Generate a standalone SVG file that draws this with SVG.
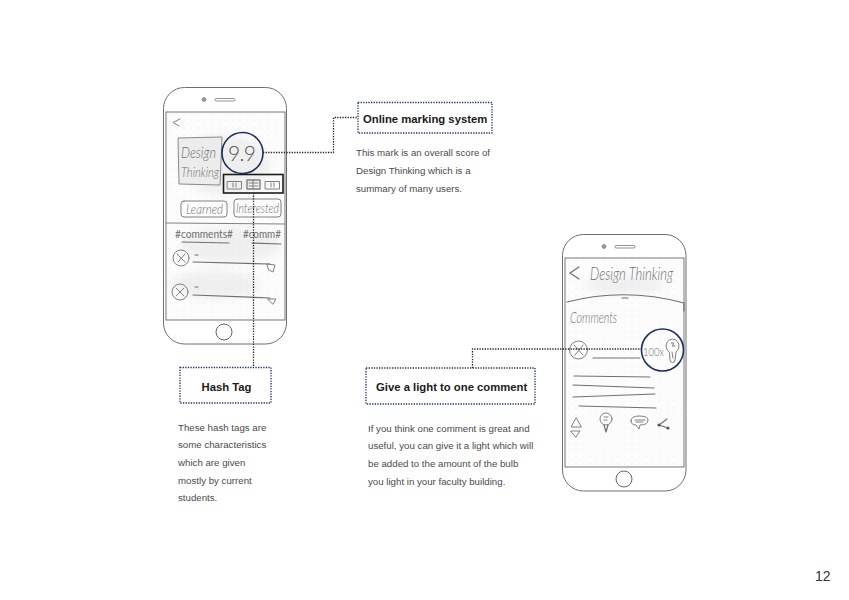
<svg xmlns="http://www.w3.org/2000/svg" width="849" height="600" viewBox="0 0 849 600">
<style>
.ph{fill:#fff;stroke:#6e6e6e;stroke-width:1}
.scr{fill:#fcfcfc;stroke:#777;stroke-width:1}
.sk{fill:none;stroke:#808080;stroke-width:1;stroke-linecap:round;stroke-linejoin:round}
.skd{fill:none;stroke:#707070;stroke-width:1.2;stroke-linecap:round}
.hw{font-family:"Lato","Liberation Sans",sans-serif;font-style:italic;font-weight:300;fill:#6f6f6f}
.ring{fill:none;stroke:#1b2f5e;stroke-width:1.6}
.box{fill:#fff;stroke:#1b2f5e;stroke-width:1.3;stroke-dasharray:1.3 1.3}
.conn{fill:none;stroke:#222;stroke-width:1.3;stroke-dasharray:1.3 1.3}
.h{font-family:"Liberation Sans",Arial,sans-serif;font-weight:700;font-size:11.3px;fill:#1a1a1a}
.b{font-family:"Liberation Sans",Arial,sans-serif;font-size:9.7px;fill:#4a4a4a}
.smudge{fill:#bdbdbd;opacity:.2;filter:url(#blur)}
</style>
<defs>
<filter id="blur" x="-30%" y="-30%" width="160%" height="160%"><feGaussianBlur stdDeviation="4"/></filter>
<pattern id="dots" width="7" height="7" patternUnits="userSpaceOnUse"><circle cx="2" cy="2" r=".45" fill="#d8d8d8"/></pattern>
</defs>
<rect width="849" height="600" fill="#fff"/>

<g id="phone-left">
<rect class="ph" x="163.500" y="87.500" width="123" height="256.500" rx="21" ry="21"/>
<circle cx="204" cy="99.500" r="2" fill="#999" stroke="#777" stroke-width=".6"/>
<rect x="215" y="98.500" width="20" height="2.500" rx="1.200" fill="#fff" stroke="#777" stroke-width=".8"/>
<rect class="scr" x="166" y="112" width="119" height="208"/>
<rect x="166.500" y="112.500" width="118" height="207" fill="url(#dots)"/>
<ellipse class="smudge" cx="225" cy="165" rx="45" ry="30"/>
<ellipse class="smudge" cx="230" cy="245" rx="50" ry="18"/>
<ellipse class="smudge" cx="215" cy="285" rx="45" ry="14"/>
<circle cx="224" cy="332" r="8" fill="#fff" stroke="#666" stroke-width="1"/>
<path class="sk" d="M180 119L173 122.500L179 126"/>
<path d="M178 138L222 137L220 185L179 184Z" fill="#ececec" stroke="#8a8a8a" stroke-width="1"/>
<text class="hw" x="181" y="158" font-size="15" textLength="35" lengthAdjust="spacingAndGlyphs">Design</text>
<text class="hw" x="181" y="177" font-size="14" textLength="38" lengthAdjust="spacingAndGlyphs">Thinking</text>
<text class="hw" x="228" y="161" font-size="21" textLength="28" style="fill:#555;font-style:normal">9.9</text>
<g class="sk">
<rect x="227.500" y="181.500" width="14" height="7.500"/><path d="M233 183v4M236 183v4"/>
<rect x="247" y="180" width="13" height="9" stroke-width="1.400"/><path d="M249 183h9M249 186h9M253 180v9"/>
<rect x="265.500" y="181.500" width="14" height="7.500"/><path d="M271 183v4M274 183v4"/>
</g>
<rect x="223.500" y="174.500" width="59.500" height="18.500" fill="none" stroke="#1c1c1c" stroke-width="1.600"/>
<rect class="sk" x="181" y="201" width="46" height="16" rx="3"/>
<text class="hw" x="186" y="214" font-size="14" textLength="37" lengthAdjust="spacingAndGlyphs">Learned</text>
<rect class="sk" x="234" y="199" width="47" height="18" rx="3"/>
<text class="hw" x="236" y="213" font-size="14" textLength="43" lengthAdjust="spacingAndGlyphs">Interested</text>
<path class="sk" d="M166 223L285 224"/>
<text class="hw" x="175" y="238" font-size="11" textLength="58" lengthAdjust="spacingAndGlyphs" style="font-style:normal;font-weight:400">#comments#</text>
<text class="hw" x="243" y="238" font-size="11" textLength="38" lengthAdjust="spacingAndGlyphs" style="font-style:normal;font-weight:400">#comm#</text>
<path class="skd" d="M182 242L229 243M252 243L281 244"/>
<circle class="sk" cx="181" cy="258" r="8"/><path class="sk" d="M177 254L185 262M185 254L178 262"/>
<path class="skd" d="M195 255H198M193 262L270 264"/>
<path class="sk" d="M267 264L275 265L273 272L269 270Z" fill="#999"/>
<circle class="sk" cx="180" cy="292" r="8"/><path class="sk" d="M176 288L184 296M184 288L176 296"/>
<path class="skd" d="M195 287H198M193 295L270 298"/>
<path class="sk" d="M268 299L276 299L273 304Z"/>
</g>

<g id="phone-right">
<rect class="ph" x="562.500" y="234.500" width="123.500" height="256.500" rx="21" ry="21"/>
<circle cx="604" cy="246.500" r="2" fill="#999" stroke="#777" stroke-width=".6"/>
<rect x="615" y="245.500" width="20" height="2.500" rx="1.200" fill="#fff" stroke="#777" stroke-width=".8"/>
<rect class="scr" x="565" y="258" width="119" height="209"/>
<rect x="565.500" y="258.500" width="118" height="208" fill="url(#dots)"/>
<ellipse class="smudge" cx="625" cy="285" rx="40" ry="9"/>
<circle cx="624" cy="479" r="8" fill="#fff" stroke="#666" stroke-width="1"/>
<path class="skd" d="M579 267L570 273L579 279"/>
<text class="hw" x="590" y="280" font-size="18" textLength="83" lengthAdjust="spacingAndGlyphs">Design Thinking</text>
<path class="skd" d="M567 302Q625 287 684 303M684 303V311M622 298H628"/>
<text class="hw" x="570" y="323" font-size="15" textLength="47" lengthAdjust="spacingAndGlyphs">Comments</text>
<circle class="sk" cx="578.500" cy="350" r="9"/><path class="sk" d="M574 345L583 355M583 345L575 355"/>
<path class="skd" d="M593 358H640M574 376L650 377M573 385L654 388M573 397L655 394M579 406L656 408"/>
<text class="hw" x="643" y="356" font-size="12" textLength="21" lengthAdjust="spacingAndGlyphs" style="font-style:normal">100x</text>
<path class="sk" d="M669 352a6.500 7 0 1 1 7 0L675 360a2 2 0 0 1-5 0Z"/><path class="sk" d="M671 343h3l-2 3h3M672 352L673 358"/>
<path class="sk" d="M576 418L571 427H581ZM571 431H580L576 437Z"/>
<circle class="sk" cx="606" cy="419" r="6"/><path class="skd" d="M604 425L606 432M608 425L606 432"/><path class="sk" d="M604 417h4M604 420h3"/>
<path class="sk" d="M631 421Q631 416 639 416Q648 416 648 420Q648 425 640 425L639 429L636 425Q631 425 631 421Z"/><path class="sk" d="M635 420H645M636 422H643"/>
<path class="skd" d="M667 419L659 425L668 428"/>
<circle cx="659" cy="425" r="1.600" fill="#555"/><circle cx="668" cy="428" r="1.600" fill="#555"/>
</g>

<g id="connectors">
<path class="conn" d="M263 152.500H333.500V117.500H357"/>
<path class="conn" d="M253.500 193V367"/>
<path class="conn" d="M472.500 368V349H642"/>
</g>

<g id="node-score"><circle class="ring" cx="242.500" cy="153" r="20.500"/></g>
<g id="node-light"><circle class="ring" cx="662.500" cy="350" r="21"/></g>

<g id="node-online">
<rect class="box" x="358" y="102.500" width="134" height="30.500"/>
<text class="h" x="363" y="122.500">Online marking system</text>
<g class="b"><text x="356" y="156">This mark is an overall score of</text><text x="356" y="174">Design Thinking which is a</text><text x="356" y="192">summary of many users.</text></g>
</g>
<g id="node-hash">
<rect class="box" x="180" y="367.500" width="91" height="35.500"/>
<text class="h" x="201.500" y="390.500">Hash Tag</text>
<g class="b"><text x="178" y="431">These hash tags are</text><text x="178" y="448">some characteristics</text><text x="178" y="466">which are given</text><text x="178" y="484">mostly by current</text><text x="178" y="501">students.</text></g>
</g>
<g id="node-give">
<rect class="box" x="366" y="368" width="169" height="36"/>
<text class="h" x="376" y="391">Give a light to one comment</text>
<g class="b"><text x="368" y="432">If you think one comment is great and</text><text x="368" y="449">useful, you can give it a light which will</text><text x="368" y="467">be added to the amount of the bulb</text><text x="368" y="485">you light in your faculty building.</text></g>
</g>
<text x="815" y="581" font-family="Liberation Sans,Arial,sans-serif" font-size="14" fill="#333">12</text>
</svg>
